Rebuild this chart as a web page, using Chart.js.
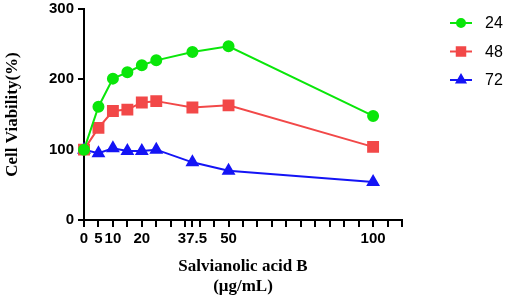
<!DOCTYPE html>
<html>
<head>
<meta charset="utf-8">
<script src="https://cdn.jsdelivr.net/npm/chart.js@4/dist/chart.umd.min.js"></script>
<style>
  html, body { margin: 0; padding: 0; background: #fff; }
  #wrap { width: 505px; height: 297px; }
</style>
</head>
<body>
<div id="wrap"><canvas id="chart"></canvas></div>
<script>
// Salvianolic acid B dose (ug/mL)
const doses = [0, 5, 10, 15, 20, 25, 37.5, 50, 100];
// cell viability (%) per incubation time
const viability24 = [100, 161, 201, 210, 220, 227, 239, 247, 148];
const viability48 = [100, 131, 155, 157, 167, 169, 160, 163, 104];
const viability72 = [100, 95, 102, 98, 98, 100, 82, 70, 54];
const seriesNames = ['24', '48', '72'];
const xLabelled = [0, 5, 10, 20, 37.5, 50, 100];
const yTicks = [0, 100, 200, 300];

const colors = ['#0ae60a', '#f24848', '#1414f5'];
const shapes = ['circle', 'rect', 'triangle'];
const radii = [5, 7, 6];

function toPoints(ys) {
    return doses.map((d, i) => ({ x: d, y: ys[i] }));
}

const datasets = [viability24, viability48, viability72].map((vals, i) => ({
    label: seriesNames[i],
    data: toPoints(vals),
    borderColor: colors[i],
    backgroundColor: colors[i],
    pointBackgroundColor: colors[i],
    pointBorderColor: colors[i],
    pointStyle: shapes[i],
    pointRadius: radii[i],
    borderWidth: 2,
    tension: 0,
    clip: false
}));

// legend on the right: short line with the marker in the middle
const lineLegend = {
    id: 'lineLegend',
    afterDraw(chart) {
        const ctx = chart.ctx;
        chart.data.datasets.forEach((ds, i) => {
            const y = 23 + i * 28.5;
            ctx.save();
            ctx.strokeStyle = ds.borderColor;
            ctx.lineWidth = 2;
            ctx.beginPath();
            ctx.moveTo(450, y);
            ctx.lineTo(472, y);
            ctx.stroke();
            ctx.fillStyle = ds.backgroundColor;
            ctx.strokeStyle = ds.borderColor;
            Chart.helpers.drawPoint(ctx, { pointStyle: ds.pointStyle, radius: ds.pointRadius - 1, borderWidth: 1 }, 461, y);
            ctx.fillStyle = '#000';
            ctx.font = '16px "Liberation Sans", Arial, sans-serif';
            ctx.textAlign = 'left';
            ctx.textBaseline = 'middle';
            ctx.fillText(ds.label, 485, y + 1);
            ctx.restore();
        });
    }
};

const tickFont = { family: '"Liberation Sans", Arial, sans-serif', size: 15, weight: 'bold' };
const titleFont = { family: '"Liberation Serif", "Times New Roman", serif', size: 17, weight: 'bold', lineHeight: 1.2 };

new Chart(document.getElementById('chart'), {
    type: 'line',
    data: { datasets: datasets },
    plugins: [lineLegend],
    options: {
        responsive: true,
        maintainAspectRatio: false,
        animation: false,
        layout: { padding: { top: 8, right: 103, left: 0, bottom: 0 } },
        plugins: {
            legend: { display: false },
            tooltip: { enabled: false }
        },
        scales: {
            x: {
                type: 'linear',
                min: 0,
                max: 110,
                afterBuildTicks(scale) {
                    const vals = [];
                    for (let v = 0; v <= 110; v += 5) vals.push(v);
                    vals.push(37.5);
                    vals.sort((a, b) => a - b);
                    scale.ticks = vals.map(v => ({ value: v }));
                },
                afterFit(scale) { scale.height = 77; },
                ticks: {
                    autoSkip: false,
                    maxRotation: 0,
                    color: '#000',
                    font: tickFont,
                    padding: 3,
                    callback: v => xLabelled.includes(v) ? String(v) : ''
                },
                grid: { drawOnChartArea: false, drawTicks: true, tickLength: 7, color: '#000', lineWidth: 2 },
                border: { color: '#000', width: 2 },
                title: {
                    display: true,
                    text: ['Salvianolic acid B', '(\u03bcg/mL)'],
                    color: '#000',
                    font: titleFont,
                    padding: { top: 0, bottom: 0 }
                }
            },
            y: {
                min: 0,
                max: 300,
                afterBuildTicks(scale) {
                    scale.ticks = yTicks.map(v => ({ value: v }));
                },
                afterFit(scale) {
                    scale.width = 84;
                    scale.paddingTop = 0;
                    scale.paddingBottom = 0;
                },
                ticks: { color: '#000', font: tickFont, padding: 4 },
                grid: { drawOnChartArea: false, drawTicks: true, tickLength: 6, color: '#000', lineWidth: 2 },
                border: { color: '#000', width: 2 },
                title: {
                    display: true,
                    text: 'Cell Viability(%)',
                    color: '#000',
                    font: titleFont,
                    padding: { top: 2, bottom: 0 }
                }
            }
        }
    }
});
</script>
</body>
</html>
